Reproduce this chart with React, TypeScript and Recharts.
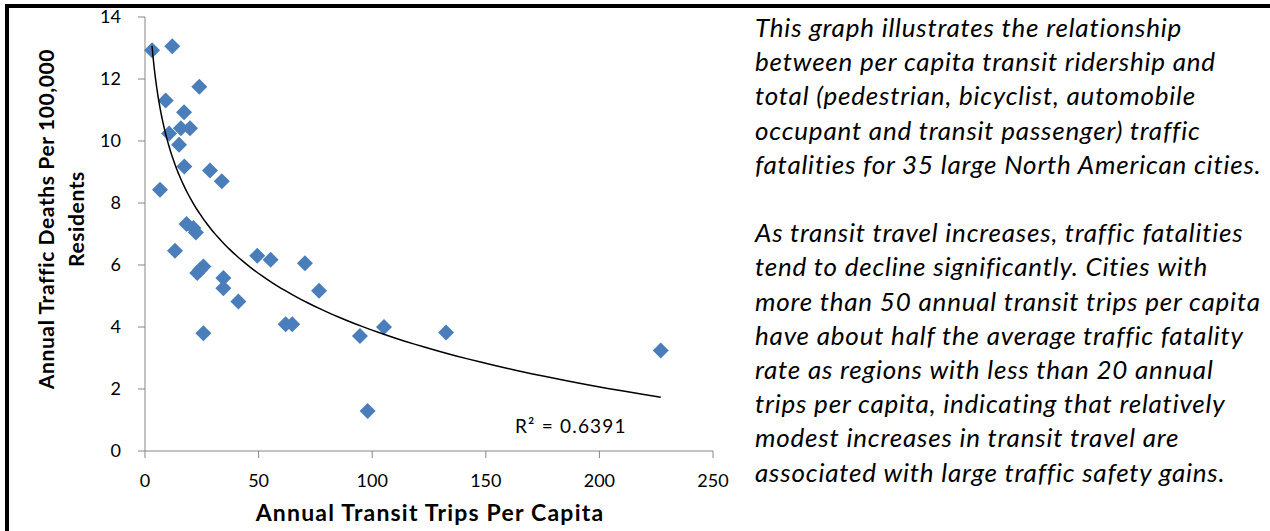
import React from 'react';
import { ScatterChart, Scatter, XAxis, YAxis } from 'recharts';

// Annual transit trips per capita (x) and annual traffic deaths per 100,000 residents (y)
const TRIPS_PER_CAPITA = [
  3.1, 12.0, 23.9, 9.1, 17.2, 15.8, 19.8, 10.6, 15.0, 17.3, 28.6, 33.8, 6.6,
  18.3, 21.3, 22.4, 13.2, 25.7, 23.0, 34.5, 34.5, 41.1, 25.7, 49.4, 55.3,
  70.4, 76.6, 61.9, 64.8, 94.6, 105.2, 132.5, 227.0, 98.0, 24.3,
];
const DEATHS_PER_100K = [
  12.93, 13.06, 11.75, 11.31, 10.93, 10.41, 10.41, 10.24, 9.88, 9.18, 9.05, 8.7, 8.43,
  7.32, 7.19, 7.05, 6.46, 5.95, 5.74, 5.58, 5.25, 4.82, 3.8, 6.3, 6.17,
  6.06, 5.17, 4.09, 4.09, 3.71, 4.0, 3.82, 3.24, 1.29, 5.85,
];
const X_TICKS = [0, 50, 100, 150, 200, 250];
const Y_TICKS = [0, 2, 4, 6, 8, 10, 12, 14];
const R2_LABEL = 'R² = 0.6391';
const X_TITLE = 'Annual Transit Trips Per Capita';
const Y_TITLE_LINES = ['Annual Traffic Deaths Per 100,000', 'Residents'];
const NOTE_LINES_1 = [
  'This graph illustrates the relationship',
  'between per capita transit ridership and',
  'total (pedestrian, bicyclist, automobile',
  'occupant and transit passenger) traffic',
  'fatalities for 35 large North American cities.',
];
const NOTE_LINES_2 = [
  'As transit travel increases, traffic fatalities',
  'tend to decline significantly. Cities with',
  'more than 50 annual transit trips per capita',
  'have about half the average traffic fatality',
  'rate as regions with less than 20 annual',
  'trips per capita, indicating that relatively',
  'modest increases in transit travel are',
  'associated with large traffic safety gains.',
];

const points = TRIPS_PER_CAPITA.map((x, i) => ({ x, y: DEATHS_PER_100K[i] }));

// Logarithmic least-squares trendline fitted to the points (as the spreadsheet does)
const lnX = TRIPS_PER_CAPITA.map((v) => Math.log(v));
const n = lnX.length;
const mLn = lnX.reduce((a, b) => a + b, 0) / n;
const mY = DEATHS_PER_100K.reduce((a, b) => a + b, 0) / n;
let sxy = 0;
let sxx = 0;
lnX.forEach((l, i) => {
  sxy += (l - mLn) * (DEATHS_PER_100K[i] - mY);
  sxx += (l - mLn) * (l - mLn);
});
const slope = sxy / sxx;
const intercept = mY - slope * mLn;
const xMin = Math.min(...TRIPS_PER_CAPITA);
const xMax = Math.max(...TRIPS_PER_CAPITA);
const trend = Array.from({ length: 120 }, (_, i) => {
  const x = xMin * Math.pow(xMax / xMin, i / 119);
  return { x, y: slope * Math.log(x) + intercept };
});

const FONT = 'Lato, "Open Sans", sans-serif';
const AXIS_GREY = '#868686';
const MARKER = '#4A7EBB';

const Diamond = (p: any) => {
  const { cx, cy } = p;
  return (
    <polygon
      points={`${cx},${cy - 8} ${cx + 8},${cy} ${cx},${cy + 8} ${cx - 8},${cy}`}
      fill={MARKER}
    />
  );
};

const NoShape = () => <g />;

const YTitle = () => (
  <g>
    {Y_TITLE_LINES.map((t, i) => (
      <text
        key={i}
        x={0}
        y={0}
        transform={`translate(${45 + i * 30}, 219) rotate(-90)`}
        textAnchor="middle"
        dominantBaseline="central"
        fontFamily={FONT}
        fontWeight="bold"
        fontSize={21}
        letterSpacing={0.6}
        fill="#000"
      >
        {t}
      </text>
    ))}
  </g>
);

const XTitle = () => (
  <text
    x={430}
    y={512}
    textAnchor="middle"
    dominantBaseline="central"
    fontFamily={FONT}
    fontWeight="bold"
    fontSize={23}
    letterSpacing={1.2}
    fill="#000"
  >
    {X_TITLE}
  </text>
);

export default function App() {
  return (
    <div
      style={{
        position: 'absolute',
        left: 0,
        top: 0,
        width: 1270,
        height: 531,
        background: '#fff',
        overflow: 'hidden',
      }}
    >
      <div style={{ position: 'absolute', left: 5, top: 4, width: 1265, height: 4, background: '#000' }} />
      <div style={{ position: 'absolute', left: 5, top: 4, width: 4, height: 527, background: '#000' }} />
      <div style={{ position: 'absolute', left: 0, top: 0 }}>
        <ScatterChart width={740} height={531} margin={{ top: 17, right: 27, bottom: 0, left: 0 }}>
          <XAxis
            type="number"
            dataKey="x"
            domain={[0, 250]}
            ticks={X_TICKS}
            height={80}
            tickSize={7}
            tickMargin={16}
            axisLine={{ stroke: AXIS_GREY }}
            tickLine={{ stroke: AXIS_GREY }}
            tick={{ fill: '#000', fontSize: 18, fontFamily: FONT }}
            label={{ content: XTitle }}
          />
          <YAxis
            type="number"
            dataKey="y"
            domain={[0, 14]}
            ticks={Y_TICKS}
            width={145}
            tickSize={7}
            tickMargin={17}
            axisLine={{ stroke: AXIS_GREY }}
            tickLine={{ stroke: AXIS_GREY }}
            tick={{ fill: '#000', fontSize: 18, fontFamily: FONT }}
            label={{ content: YTitle }}
          />
          <Scatter data={points} shape={Diamond} fill={MARKER} isAnimationActive={false} />
          <Scatter
            data={trend}
            shape={NoShape}
            line={{ stroke: '#000', strokeWidth: 1.5 }}
            lineType="joint"
            isAnimationActive={false}
          />
        </ScatterChart>
      </div>
      <div
        style={{
          position: 'absolute',
          left: 515,
          top: 414,
          fontFamily: FONT,
          fontSize: 19,
          letterSpacing: 1.2,
          color: '#000',
          whiteSpace: 'nowrap',
        }}
      >
        {R2_LABEL}
      </div>
      <div
        style={{
          position: 'absolute',
          left: 755,
          top: 10,
          fontFamily: FONT,
          fontStyle: 'italic',
          fontSize: 26,
          letterSpacing: 0.8,
          lineHeight: '34.2px',
          color: '#000',
          whiteSpace: 'nowrap',
        }}
      >
        {NOTE_LINES_1.map((l, i) => (
          <div key={'a' + i}>{l}</div>
        ))}
        <div>&nbsp;</div>
        {NOTE_LINES_2.map((l, i) => (
          <div key={'b' + i}>{l}</div>
        ))}
      </div>
    </div>
  );
}
